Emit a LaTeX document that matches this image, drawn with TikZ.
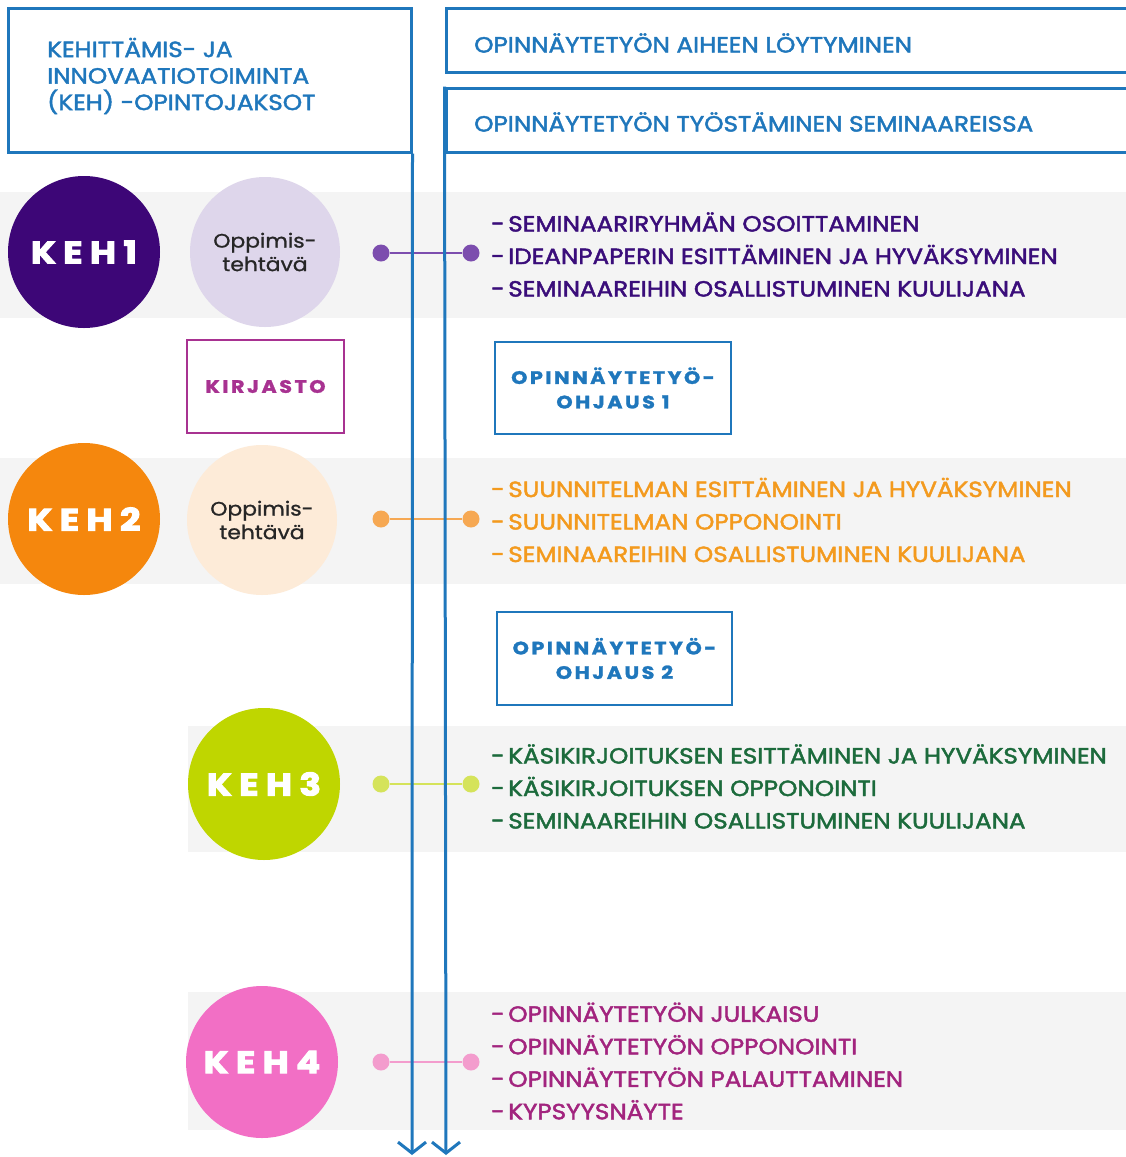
\documentclass[tikz,border=0pt]{standalone}
\usepackage{fontspec}
\setmainfont{Poppins}
\newfontfamily\medfont[FakeBold=2,FakeStretch=1.12]{Poppins}
\newfontfamily\oppfont[FakeBold=1,FakeStretch=1.12]{Poppins}
\newfontfamily\boxfont[LetterSpace=14,FakeStretch=1.15,BoldFeatures={FakeBold=1.5}]{Poppins}
\newfontfamily\kehfont[LetterSpace=24,FakeStretch=1.15,BoldFeatures={FakeBold=3.5}]{Poppins}
\newcommand\itemdash{-\hspace{3.5pt}}
\usetikzlibrary{arrows.meta}
\definecolor{lineblue}{HTML}{1F77BC}
\definecolor{band}{HTML}{F4F4F4}
\definecolor{kehA}{HTML}{3D0677}
\definecolor{oppA}{HTML}{DED6EB}
\definecolor{conA}{HTML}{7C4DAE}
\definecolor{txtA}{HTML}{3A0D7A}
\definecolor{kehB}{HTML}{F5870D}
\definecolor{oppB}{HTML}{FDEBD8}
\definecolor{conB}{HTML}{F6A853}
\definecolor{txtB}{HTML}{F39A1E}
\definecolor{kehC}{HTML}{BFD600}
\definecolor{conC}{HTML}{D5E35A}
\definecolor{txtC}{HTML}{1C6B3C}
\definecolor{kehD}{HTML}{F26FC5}
\definecolor{conD}{HTML}{F39CCD}
\definecolor{txtD}{HTML}{A2247E}
\definecolor{lib}{HTML}{A83291}
\definecolor{darktext}{HTML}{262626}
\tikzset{
  bluebox/.style={draw=lineblue, line width=3pt, inner sep=0pt},
  kehcircle/.style={circle, minimum size=152pt, inner sep=0pt, text=white,
     font=\kehfont\bfseries\fontsize{31}{31}\selectfont},
  oppcircle/.style={circle, minimum size=150pt, inner sep=0pt, text=darktext, align=center,
     font=\oppfont\fontsize{19.5}{23.5}\selectfont},
  dotnode/.style={circle, minimum size=17pt, inner sep=0pt},
  conn/.style={line width=2.5pt},
  listtext/.style={anchor=west, align=left, inner sep=0pt, font=\medfont\fontsize{22}{32.5}\selectfont},
  headtext/.style={anchor=west, inner sep=0pt, font=\medfont\fontsize{22}{26.5}\selectfont, text=lineblue},
  smallbox/.style={line width=2.5pt, inner sep=0pt, align=center,
     font=\boxfont\bfseries\fontsize{18}{24.5}\selectfont},
  flowline/.style={draw=lineblue, line width=3pt, -{Straight Barb[length=11pt,width=28pt,line width=3pt]}}
}
\begin{document}
\begin{tikzpicture}[x=1pt,y=-1pt]
\useasboundingbox (0,0) rectangle (1126,1157);
\fill[white] (0,0) rectangle (1126,1157);
% bands
\fill[band] (0,192) rectangle (1126,318);
\fill[band] (0,458) rectangle (1126,584);
\fill[band] (188,726) rectangle (1126,852);
\fill[band] (188,992) rectangle (1126,1130);
% top boxes
\node[bluebox, minimum width=403pt, minimum height=144pt] (kehbox) at (209.5,80) {};
\node[headtext, align=left] (kehtxt) at (47,76) {KEHITTÄMIS- JA\\INNOVAATIOTOIMINTA\\(KEH) -OPINTOJAKSOT};
\node[bluebox, minimum width=700pt, minimum height=64pt] (topicbox) at (796,40) {};
\node[headtext] (topictxt) at (474,43) {OPINNÄYTETYÖN AIHEEN LÖYTYMINEN};
\node[bluebox, minimum width=700pt, minimum height=64pt] (seminarbox) at (796,120) {};
\node[headtext] (seminartxt) at (474,122) {OPINNÄYTETYÖN TYÖSTÄMINEN SEMINAAREISSA};
% circles
\node[kehcircle, fill=kehA] (keh1) at (84,252) {KEH1};
\node[oppcircle, fill=oppA] (opp1) at (265,252) {Oppimis-\\tehtävä};
\node[kehcircle, fill=kehB] (keh2) at (84,519) {KEH2};
\node[oppcircle, fill=oppB] (opp2) at (262,520) {Oppimis-\\tehtävä};
\node[kehcircle, fill=kehC] (keh3) at (264,784) {KEH3};
\node[kehcircle, fill=kehD] (keh4) at (262,1062) {KEH4};
% small boxes
\node[smallbox, draw=lib, text=lib, minimum width=157pt, minimum height=93pt] (kirjasto) at (265.5,386.5) {KIRJASTO};
\node[smallbox, draw=lineblue, text=lineblue, minimum width=236pt, minimum height=92pt] (ohj1) at (613,388) {OPINNÄYTETYÖ-\\OHJAUS 1};
\node[smallbox, draw=lineblue, text=lineblue, minimum width=235pt, minimum height=93pt] (ohj2) at (614.5,658.5) {OPINNÄYTETYÖ-\\OHJAUS 2};
% connectors
\node[dotnode, fill=conA] (a1) at (381,253) {};
\node[dotnode, fill=conA] (a2) at (471,253) {};
\draw[conn, conA] (a1) -- (a2);
\node[dotnode, fill=conB] (b1) at (381,519) {};
\node[dotnode, fill=conB] (b2) at (471,519) {};
\draw[conn, conB] (b1) -- (b2);
\node[dotnode, fill=conC] (c1) at (381,784) {};
\node[dotnode, fill=conC] (c2) at (471,784) {};
\draw[conn, conC] (c1) -- (c2);
\node[dotnode, fill=conD] (e1) at (381,1062) {};
\node[dotnode, fill=conD] (e2) at (471,1062) {};
\draw[conn, conD] (e1) -- (e2);
% flow lines
\coordinate (ltip) at (412,1155);
\coordinate (rtip) at (446,1155);
\draw[flowline] (kehbox.south east) -- (ltip);
\draw[flowline] (seminarbox.north west) -- (rtip);
% lists
\node[listtext, text=txtA] (listA) at (491,254.5) {\itemdash SEMINAARIRYHMÄN OSOITTAMINEN\\\itemdash IDEANPAPERIN ESITTÄMINEN JA HYVÄKSYMINEN\\\itemdash SEMINAAREIHIN OSALLISTUMINEN KUULIJANA};
\node[listtext, text=txtB] (listB) at (491,520) {\itemdash SUUNNITELMAN ESITTÄMINEN JA HYVÄKSYMINEN\\\itemdash SUUNNITELMAN OPPONOINTI\\\itemdash SEMINAAREIHIN OSALLISTUMINEN KUULIJANA};
\node[listtext, text=txtC] (listC) at (491,786.5) {\itemdash KÄSIKIRJOITUKSEN ESITTÄMINEN JA HYVÄKSYMINEN\\\itemdash KÄSIKIRJOITUKSEN OPPONOINTI\\\itemdash SEMINAAREIHIN OSALLISTUMINEN KUULIJANA};
\node[listtext, text=txtD] (listD) at (491,1061) {\itemdash OPINNÄYTETYÖN JULKAISU\\\itemdash OPINNÄYTETYÖN OPPONOINTI\\\itemdash OPINNÄYTETYÖN PALAUTTAMINEN\\\itemdash KYPSYYSNÄYTE};
\end{tikzpicture}
\end{document}
